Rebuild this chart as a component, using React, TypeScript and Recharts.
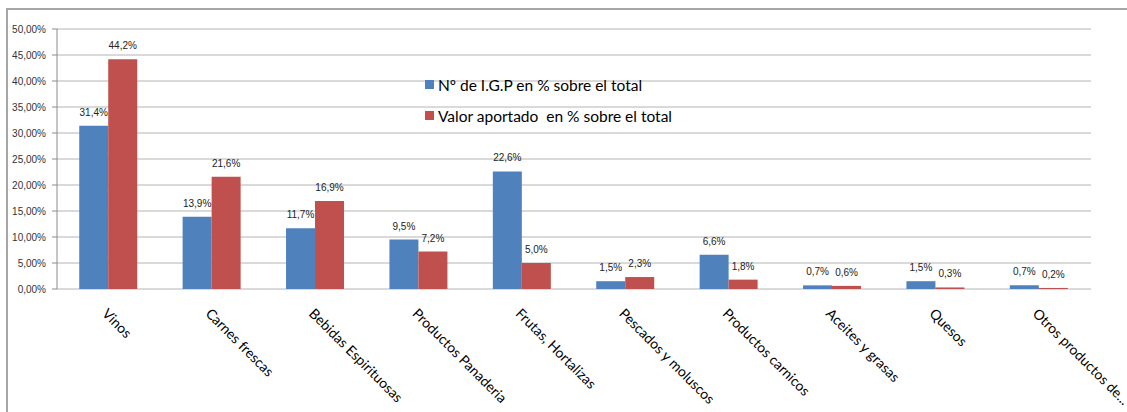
import React from "react";
import { BarChart, Bar, XAxis, YAxis, CartesianGrid, LabelList } from "recharts";

const categories = [
  "Vinos",
  "Carnes frescas",
  "Bebidas Espirituosas",
  "Productos Panaderia",
  "Frutas, Hortalizas",
  "Pescados y moluscos",
  "Productos carnicos",
  "Aceites y grasas",
  "Quesos",
  "Otros productos de...",
];
const igpShare = [31.4, 13.9, 11.7, 9.5, 22.6, 1.5, 6.6, 0.7, 1.5, 0.7];
const valueShare = [44.2, 21.6, 16.9, 7.2, 5.0, 2.3, 1.8, 0.6, 0.3, 0.2];
const yTicks = [0, 5, 10, 15, 20, 25, 30, 35, 40, 45, 50];
const boundaryTicks = [0, 1, 2, 3, 4, 5, 6, 7, 8, 9, 10];
const seriesNames = ["Nº de I.G.P en % sobre el total", "Valor aportado  en % sobre el total"];
const colors = ["#4F81BD", "#C0504D"];

const data = categories.map((c, i) => ({ name: c, igp: igpShare[i], valor: valueShare[i] }));

const fmtTick = (v: number) => `${v.toFixed(2).replace(".", ",")}%`;
const fmtLabel = (v: any) => `${Number(v).toFixed(1).replace(".", ",")}%`;

const CatTick = (props: any) => {
  const { x, y, payload } = props;
  return (
    <text
      x={x}
      y={y}
      transform={`rotate(45, ${x}, ${y})`}
      textAnchor="start"
      dy="0.75em"
      fontSize={14}
      fill="#000"
      fontFamily="Lato, 'Open Sans', sans-serif"
    >
      {payload.value}
    </text>
  );
};

const LegendBox = () => (
  <div
    style={{
      position: "absolute",
      left: 425,
      top: 69,
      fontFamily: "Lato, 'Open Sans', sans-serif",
      fontSize: 15.5,
      color: "#000",
    }}
  >
    {seriesNames.map((n, i) => (
      <div key={n} style={{ display: "flex", alignItems: "center", height: 31, whiteSpace: "pre" }}>
        <span style={{ display: "inline-block", width: 9, height: 9, background: colors[i], marginRight: 4 }} />
        <span>{n}</span>
      </div>
    ))}
  </div>
);

export default function App() {
  return (
    <div style={{ position: "relative", width: 1127, height: 412, background: "#fff", overflow: "hidden" }}>
      <style>{`body{margin:0;background:#fff}`}</style>
      <div
        style={{
          position: "absolute",
          left: 6,
          top: 8,
          width: 1200,
          height: 500,
          borderLeft: "2px solid #a6a6a6",
          borderTop: "2px solid #a6a6a6",
        }}
      />
      <div style={{ position: "absolute", left: 0, top: 0 }}>
        <BarChart
          width={1127}
          height={412}
          data={data}
          margin={{ top: 29, right: 36, left: 0, bottom: 0 }}
          barCategoryGap="21.5%"
          barGap={0}
        >
          <CartesianGrid horizontal vertical={false} stroke="#b4b4b4" />
          <XAxis
            xAxisId="bnd"
            type="number"
            domain={[0, 10]}
            ticks={boundaryTicks}
            tick={false}
            tickSize={5}
            height={0}
            stroke="#8c8c8c"
            allowDataOverflow
          />
          <XAxis
            xAxisId="cat"
            dataKey="name"
            axisLine={false}
            tickLine={false}
            interval={0}
            height={123}
            tick={<CatTick />}
            tickMargin={12}
          />
          <YAxis
            width={57}
            domain={[0, 50]}
            ticks={yTicks}
            tickFormatter={fmtTick}
            tickSize={5}
            tickMargin={6}
            stroke="#8c8c8c"
            tick={{ fontSize: 10, fill: "#333", fontFamily: "'Liberation Sans', Arial, sans-serif" }}
            interval={0}
          />
          <Bar xAxisId="cat" dataKey="igp" name={seriesNames[0]} fill={colors[0]} isAnimationActive={false}>
            <LabelList
              dataKey="igp"
              position="top"
              offset={10}
              formatter={fmtLabel}
              style={{ fontSize: 10, fill: "#222", fontFamily: "'Liberation Sans', Arial, sans-serif" }}
            />
          </Bar>
          <Bar xAxisId="cat" dataKey="valor" name={seriesNames[1]} fill={colors[1]} isAnimationActive={false}>
            <LabelList
              dataKey="valor"
              position="top"
              offset={10}
              formatter={fmtLabel}
              style={{ fontSize: 10, fill: "#222", fontFamily: "'Liberation Sans', Arial, sans-serif" }}
            />
          </Bar>
        </BarChart>
      </div>
      <LegendBox />
    </div>
  );
}
